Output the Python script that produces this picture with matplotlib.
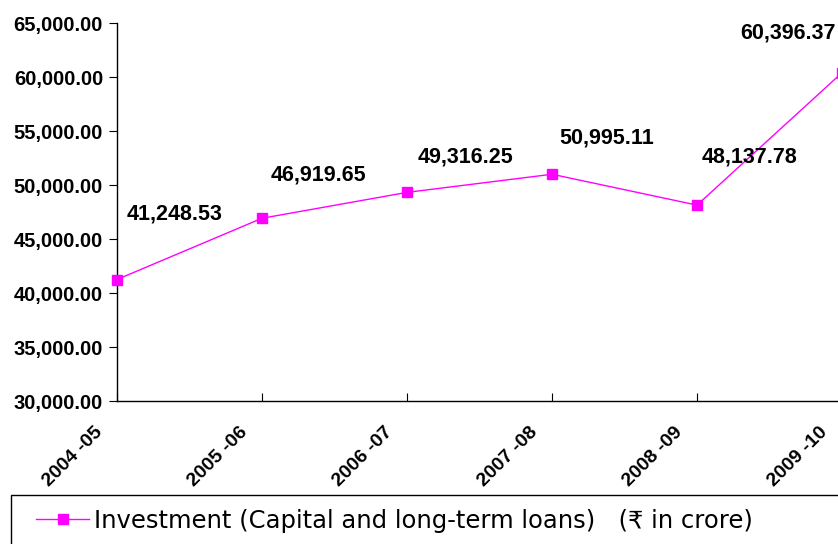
import matplotlib
matplotlib.use("Agg")
import matplotlib.pyplot as plt
import matplotlib.transforms as mtransforms
from matplotlib.patches import Rectangle
from matplotlib.lines import Line2D

categories = ["2004 -05", "2005 -06", "2006 -07", "2007 -08", "2008 -09", "2009 -10"]
values = [41248.53, 46919.65, 49316.25, 50995.11, 48137.78, 60396.37]
value_labels = ["41,248.53", "46,919.65", "49,316.25", "50,995.11", "48,137.78", "60,396.37"]
label_offsets = [(58, 66), (56, 43), (58, 35), (55, 36), (52, 48), (-54, 40)]  # pixels
series_name = "Investment (Capital and long-term loans)   (\u20b9 in crore)"
yticks = [30000, 35000, 40000, 45000, 50000, 55000, 60000, 65000]

W, H = 838, 544
fig = plt.figure(figsize=(W / 100, H / 100), dpi=100)
ax = fig.add_axes([117 / W, 1 - 401 / H, 725 / W, 378 / H])

x = list(range(len(categories)))
ax.plot(x, values, color="#FF00FF", lw=1.0, marker="s", ms=6.5,
        mfc="#FF00FF", mec="#FF00FF", clip_on=False, zorder=3)

ax.set_xlim(0, len(categories) - 1)
ax.set_ylim(30000, 65000)
ax.tick_params(axis="x", direction="in", length=6, width=0.8, pad=16)
ax.tick_params(axis="y", direction="out", length=6, width=0.8, pad=4)
ax.set_yticks(yticks)
ax.set_yticklabels([f"{v:,.2f}" for v in yticks], fontsize=14.5, fontweight="bold",
                   family="Liberation Sans")
ax.set_xticks(x)
ax.set_xticklabels(categories, rotation=45, ha="right", va="top",
                   rotation_mode="default", fontsize=14, fontweight="bold",
                   family="Liberation Sans")
shift = mtransforms.ScaledTranslation(-11 / 100, 0, fig.dpi_scale_trans)
for lab in ax.get_xticklabels():
    lab.set_transform(lab.get_transform() + shift)
for s in ["top", "right"]:
    ax.spines[s].set_visible(False)
for s in ["left", "bottom"]:
    ax.spines[s].set_linewidth(1.0)
    ax.spines[s].set_color("black")

for xi, v, lab, (dx, dy) in zip(x, values, value_labels, label_offsets):
    ax.annotate(lab, (xi, v), xytext=(dx * 0.72, dy * 0.72), textcoords="offset points",
                ha="center", va="center", fontsize=15.5, fontweight="bold",
                family="Liberation Sans", annotation_clip=False)

# legend box
fig.patches.append(Rectangle((11 / W, -0.1), 1.0, (H - 495) / H + 0.1,
                             transform=fig.transFigure, fill=False,
                             edgecolor="black", lw=1.0))
handle = Line2D([], [], color="#FF00FF", lw=1.0, marker="s", ms=6.5,
                mfc="#FF00FF", mec="#FF00FF")
fig.legend([handle], [series_name], loc="center left",
           bbox_to_anchor=(36 / W, 1 - 521 / H), frameon=False,
           prop={"family": "DejaVu Sans", "size": 17.5},
           handlelength=2.2, handletextpad=0.2, borderpad=0, borderaxespad=0)

fig.savefig("out.png", dpi=100)
